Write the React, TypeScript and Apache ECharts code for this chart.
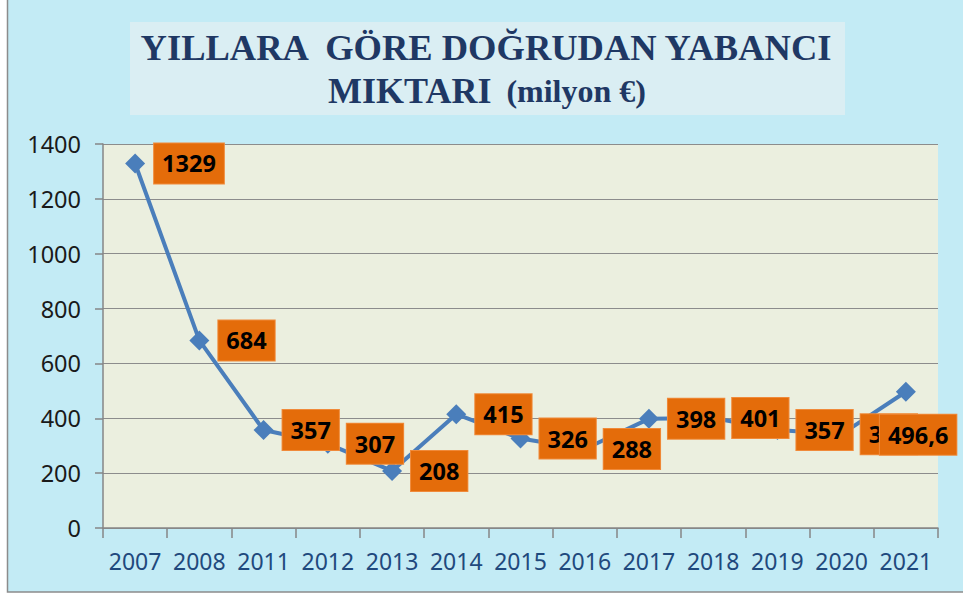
import React, { useEffect, useRef } from "react";
import * as echarts from "echarts";

const categories = ["2007", "2008", "2011", "2012", "2013", "2014", "2015", "2016", "2017", "2018", "2019", "2020", "2021"];
const values = [1329, 684, 357, 307, 208, 415, 326, 288, 398, 401, 357, 342, 496.6];
const titleLine1 = "YILLARA  GÖRE DOĞRUDAN YABANCI";
const titleLine2a = "MIKTARI";
const titleLine2b = "(milyon €)";

export default function App() {
  const ref = useRef<HTMLDivElement>(null);
  useEffect(() => {
    if (!ref.current) return;
    const chart = echarts.init(ref.current, undefined, { renderer: "svg" });
    const data = values.map((v, i) => {
      if (i === values.length - 1) {
        return { value: v, label: { offset: [-45, 43] } };
      }
      return { value: v };
    });
    chart.setOption({
      animation: false,
      graphic: [
        {
          type: "rect",
          z: -10,
          silent: true,
          shape: { x: 7.5, y: -5, width: 970, height: 597 },
          style: { fill: "#c3ebf5", stroke: "#8c8c8c", lineWidth: 1.5 },
        },
        {
          type: "rect",
          z: -5,
          silent: true,
          shape: { x: 130, y: 22, width: 715, height: 93 },
          style: { fill: "#daeef3" },
        },
        {
          type: "text",
          x: 486,
          y: 47,
          style: {
            text: titleLine1,
            fill: "#1f3864",
            font: "bold 36.5px 'Liberation Serif', serif",
            align: "center",
            verticalAlign: "middle",
          },
        },
        {
          type: "text",
          x: 487,
          y: 91,
          style: {
            text: "{a|" + titleLine2a + "}{b|" + titleLine2b + "}",
            align: "center",
            verticalAlign: "middle",
            rich: {
              a: { font: "bold 36px 'Liberation Serif', serif", fill: "#1f3864" },
              b: { font: "bold 32px 'Liberation Serif', serif", fill: "#1f3864", padding: [0, 0, 0, 15] },
            },
          },
        },
      ],
      grid: { left: 103, right: 25, top: 144, bottom: 67, show: true, backgroundColor: "#ebefdf", borderWidth: 0 },
      xAxis: {
        type: "category",
        data: categories,
        boundaryGap: true,
        axisLine: { lineStyle: { color: "#868686", width: 1.5 } },
        axisTick: { show: true, length: 10, lineStyle: { color: "#868686", width: 1.5 } },
        axisLabel: { interval: 0, color: "#1f497d", fontFamily: "'Noto Sans', sans-serif", fontSize: 23, margin: 21 },
      },
      yAxis: {
        type: "value",
        min: 0,
        max: 1400,
        interval: 200,
        axisLine: { show: true, lineStyle: { color: "#868686", width: 1.5 } },
        axisTick: { show: true, length: 8, lineStyle: { color: "#868686", width: 1.5 } },
        splitLine: { lineStyle: { color: "#8c8c8c", width: 1.2 } },
        axisLabel: {
          color: "#1a1a1a",
          fontFamily: "'Noto Sans', sans-serif",
          fontSize: 23.5,
          margin: 22,
          formatter: (v: number) => String(v),
        },
      },
      series: [
        {
          type: "line",
          data,
          symbol: "diamond",
          symbolSize: 20,
          itemStyle: { color: "#4a7ebb" },
          lineStyle: { color: "#4a7ebb", width: 4 },
          label: {
            show: true,
            position: "right",
            distance: 9,
            formatter: (p: any) => String(p.value).replace(".", ","),
            color: "#000",
            fontFamily: "'Noto Sans', sans-serif",
            fontWeight: "bold",
            fontSize: 23.5,
            lineHeight: 25,
            backgroundColor: "#e46c0a",
            borderColor: "#f08a3a",
            borderWidth: 1,
            padding: [8, 8, 7, 8],
          },
        },
      ],
    });
    return () => chart.dispose();
  }, []);
  return <div ref={ref} style={{ position: "absolute", left: 0, top: 0, width: 963, height: 595 }} />;
}
